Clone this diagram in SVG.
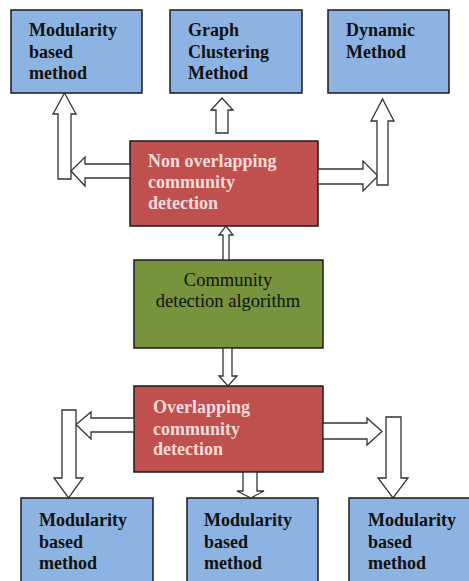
<svg xmlns="http://www.w3.org/2000/svg" width="469" height="581" viewBox="0 0 469 581">
<style>
.box{stroke:#1a1a1a;stroke-width:1.5}
.blue{fill:#8db3e2}
.red{fill:#c0504d}
.green{fill:#77933c}
.t{font-family:"Liberation Serif","Times New Roman",serif;font-size:18px;font-weight:bold;fill:#111}
.tw{font-family:"Liberation Serif","Times New Roman",serif;font-size:18px;font-weight:bold;fill:#f2dcdb}
.tg{font-family:"Liberation Serif","Times New Roman",serif;font-size:18.5px;fill:#111}
.arr{fill:#fff;stroke:#333;stroke-width:1.3;stroke-linejoin:miter}
</style>
<rect width="469" height="581" fill="#fff"/>
<g id="top-modularity">
<rect class="box blue" x="11" y="10" width="131" height="83"/>
<text class="t" x="29" y="36">Modularity</text>
<text class="t" x="29" y="58">based</text>
<text class="t" x="29" y="79">method</text>
</g>
<g id="graph-clustering">
<rect class="box blue" x="170" y="10" width="132" height="83"/>
<text class="t" x="188" y="36">Graph</text>
<text class="t" x="188" y="58">Clustering</text>
<text class="t" x="188" y="79">Method</text>
</g>
<g id="dynamic-method">
<rect class="box blue" x="328" y="10" width="121" height="83"/>
<text class="t" x="346" y="36">Dynamic</text>
<text class="t" x="346" y="58">Method</text>
</g>
<g id="non-overlapping">
<rect class="box red" x="130" y="141" width="188" height="85"/>
<text class="tw" x="148" y="167">Non overlapping</text>
<text class="tw" x="148" y="188">community</text>
<text class="tw" x="148" y="209">detection</text>
</g>
<g id="algorithm">
<rect class="box green" x="134" y="260" width="189" height="88"/>
<text class="tg" x="228" y="286" text-anchor="middle">Community</text>
<text class="tg" x="228" y="307" text-anchor="middle">detection algorithm</text>
</g>
<g id="overlapping">
<rect class="box red" x="134" y="386" width="189" height="86"/>
<text class="tw" x="153" y="413">Overlapping</text>
<text class="tw" x="153" y="435">community</text>
<text class="tw" x="153" y="455">detection</text>
</g>
<g id="bottom-modularity-1">
<rect class="box blue" x="21" y="498" width="132" height="90"/>
<text class="t" x="39" y="526">Modularity</text>
<text class="t" x="39" y="548">based</text>
<text class="t" x="39" y="569">method</text>
</g>
<g id="bottom-modularity-2">
<rect class="box blue" x="187" y="498" width="131" height="90"/>
<text class="t" x="204" y="526">Modularity</text>
<text class="t" x="204" y="548">based</text>
<text class="t" x="204" y="569">method</text>
</g>
<g id="bottom-modularity-3">
<rect class="box blue" x="349" y="498" width="130" height="90"/>
<text class="t" x="368" y="526">Modularity</text>
<text class="t" x="368" y="548">based</text>
<text class="t" x="368" y="569">method</text>
</g>
<g id="connectors">
<!-- top left vertical up -->
<polygon class="arr" points="58,179 58,114 53,114 64.5,93 76,114 71,114 71,179"/>
<!-- top left horizontal -->
<polygon class="arr" points="130,164 85,164 85,157 71,171 85,186 85,178 130,178"/>
<!-- top middle up -->
<polygon class="arr" points="216,133 216,110 211,110 222,98 233,110 228,110 228,133"/>
<!-- top right horizontal -->
<polygon class="arr" points="318,169 363,169 363,161 378,176 363,191 363,184 318,184"/>
<!-- top right vertical up -->
<polygon class="arr" points="377,185 377,121 371,121 382.5,99 394,121 388,121 388,185"/>
<!-- green up to non-overlapping -->
<polygon class="arr" points="223,260 223,235 219,235 226,226 233,235 229,235 229,260"/>
<!-- green down to overlapping -->
<polygon class="arr" points="223,348 223,376 219,376 228,386 237,376 232,376 232,348"/>
<!-- bottom left horizontal -->
<polygon class="arr" points="134,418 91,418 91,412 76,424.5 91,439 91,432 134,432"/>
<!-- bottom left vertical down -->
<polygon class="arr" points="62,410 62,478 54,478 68.5,498 83,478 76,478 76,410"/>
<!-- bottom middle down -->
<polygon class="arr" points="243,472 243,491 237,491 251,498 264,491 257,491 257,472"/>
<!-- bottom right horizontal -->
<polygon class="arr" points="323,423 367,423 367,418 382,431.5 367,445 367,439 323,439"/>
<!-- bottom right vertical down -->
<polygon class="arr" points="386,417 386,478 378,478 393,498 408,478 401,478 401,417"/>
</g>
</svg>
